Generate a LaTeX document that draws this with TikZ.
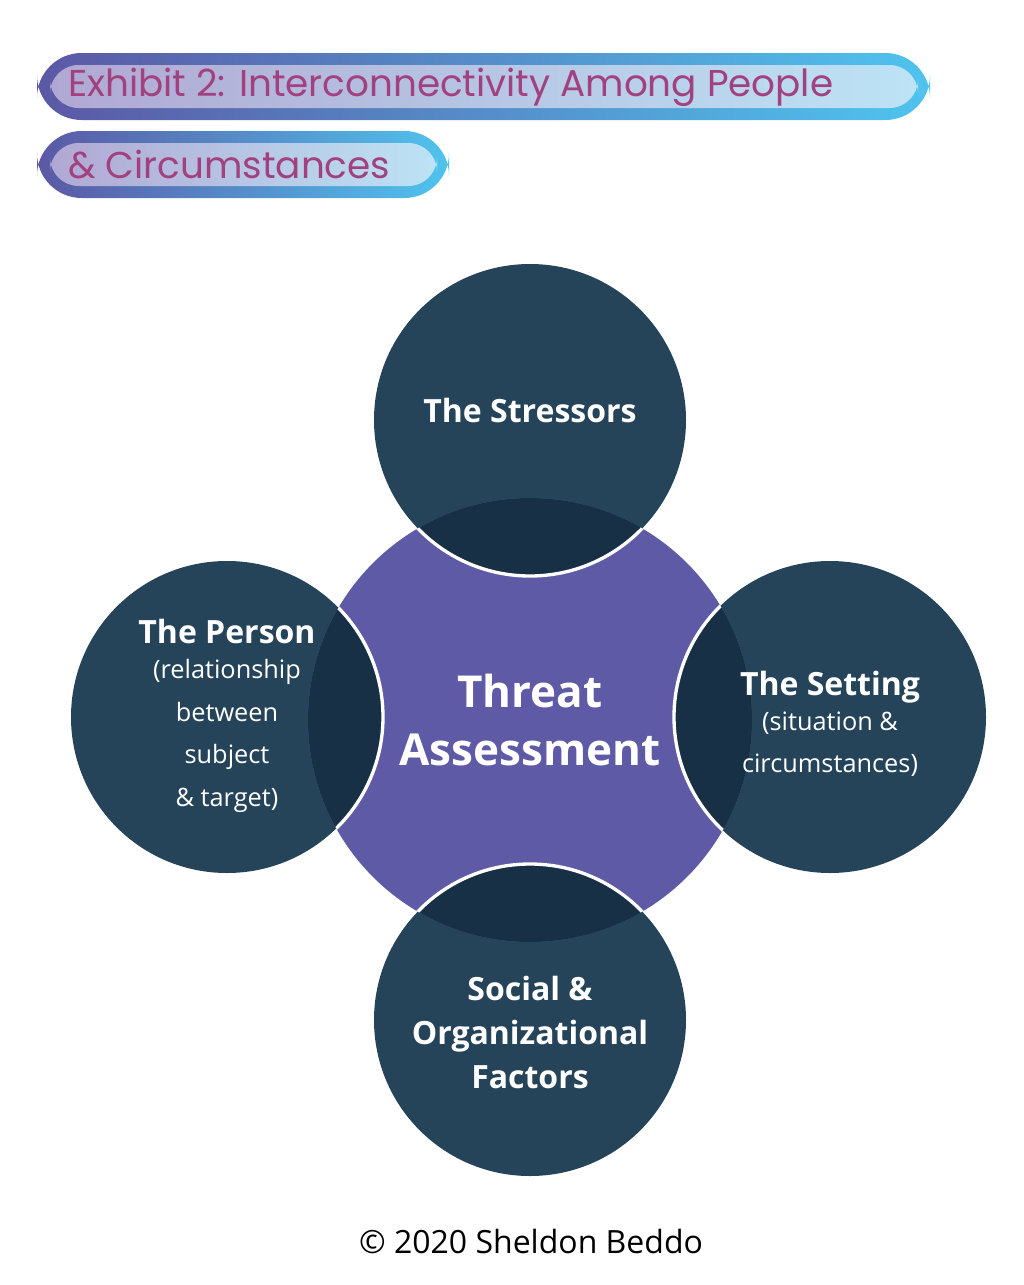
\documentclass[tikz,border=0pt]{standalone}
\usepackage{fontspec}
\setmainfont{Open Sans}
\newfontfamily\titlefont{Poppins}
\usetikzlibrary{shadings}
\definecolor{outerc}{HTML}{25445A}
\definecolor{darkc}{HTML}{173045}
\definecolor{purp}{HTML}{5E5AA6}
\definecolor{gA}{HTML}{5B58A5}
\definecolor{gB}{HTML}{4FC3EE}
\definecolor{lA}{HTML}{B0A8D3}
\definecolor{lB}{HTML}{BDE3F5}
\definecolor{titc}{HTML}{A2417F}
\newcommand\smtxt{\normalfont\fontsize{19}{27}\selectfont}
\tikzset{
  ctext/.style={text=white,align=center,font=\bfseries\fontsize{24}{32}\selectfont},
}
\begin{document}
\begin{tikzpicture}[x=0.75pt,y=-0.75pt]
\useasboundingbox[fill=white] (0,0) rectangle (1024,1285);
% title bars
\shade[left color=gA,right color=gB,rounded corners=33.5] (37,53) rectangle (930,120);
\shade[left color=lA,right color=lB,rounded corners=21.5] (50,65) rectangle (918,108);
\shade[left color=gA,right color=gB,rounded corners=33.5] (37,131) rectangle (449,198);
\shade[left color=lA,right color=lB,rounded corners=21.5] (50,143) rectangle (437,186);
\node[anchor=west,text=titc,font=\titlefont\fontsize{28}{30}\selectfont,inner sep=0] (t1) at (68,87) {Exhibit 2: Interconnectivity Among People};
\node[anchor=west,text=titc,font=\titlefont\fontsize{28}{30}\selectfont,inner sep=0] (t2) at (68,165) {\& Circumstances};
% circles
\def\R{156}
\fill[outerc] (530,420) circle (\R);
\fill[outerc] (227,717) circle (\R);
\fill[outerc] (830,717) circle (\R);
\fill[outerc] (530,1020) circle (\R);
\fill[purp] (530,720) circle (222);
\begin{scope}
\clip (530,720) circle (222);
\foreach \p in {(530,420),(227,717),(830,717),(530,1020)}
  \filldraw[fill=darkc,draw=white,line width=2.5pt] \p circle (\R);
\end{scope}
% texts
\node[ctext] (top) at (530,410) {The Stressors};
\node[ctext,font=\bfseries\fontsize{33}{44}\selectfont] (center) at (530,720) {Threat\\Assessment};
\node[ctext] (left) at (227,716) {The Person\\[-6pt]\smtxt(relationship\\\smtxt between\\\smtxt subject\\\smtxt\& target)};
\node[ctext] (right) at (830,724) {The Setting\\[-6pt]\smtxt(situation \&\\\smtxt circumstances)};
\node[ctext,font=\bfseries\fontsize{24}{33}\selectfont] (bottom) at (530,1032) {Social \&\\Organizational\\Factors};
\node[font=\fontsize{24}{28}\selectfont,text=black] (copy) at (531,1241) {© 2020 Sheldon Beddo};
\end{tikzpicture}
\end{document}
